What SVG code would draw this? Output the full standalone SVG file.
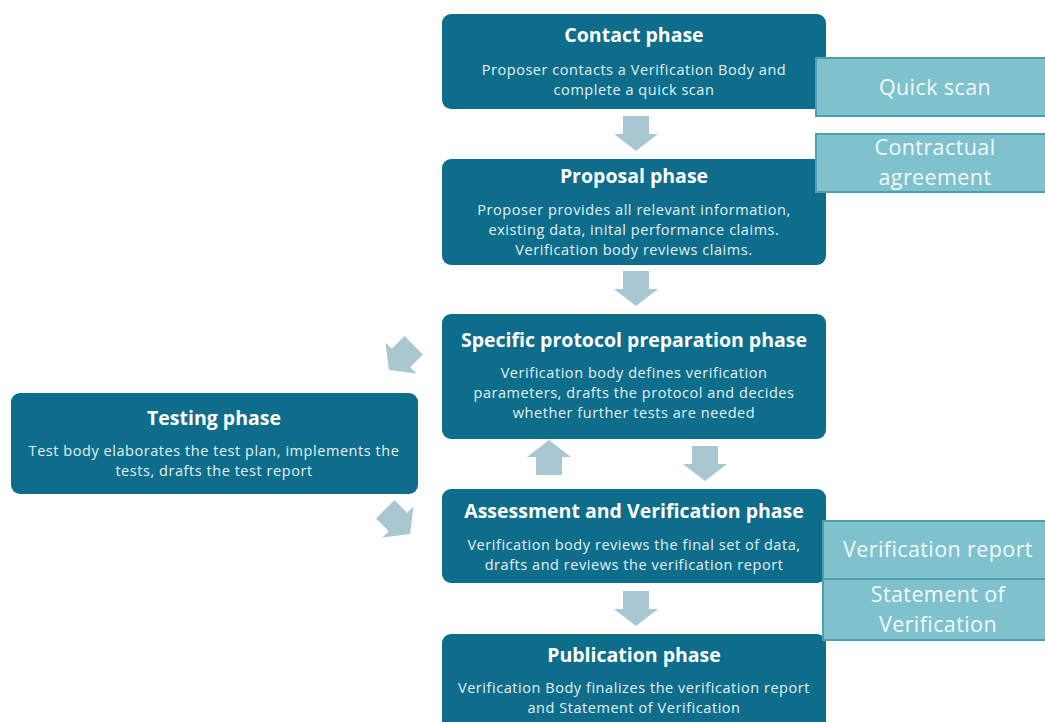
<svg xmlns="http://www.w3.org/2000/svg" width="1045" height="722" viewBox="0 0 1045 722">
<defs>
<style>
.box{fill:#0d6d8b;}
.side{fill:#7fc1cd;stroke:#4a9fb2;stroke-width:2;}
.t{font-family:"Open Sans","Liberation Sans",sans-serif;font-weight:bold;font-size:19.5px;fill:#ffffff;text-anchor:middle;}
.b{font-family:"Open Sans","Liberation Sans",sans-serif;font-size:14.5px;letter-spacing:0.55px;fill:#e3f1f5;text-anchor:middle;}
.s{font-family:"Open Sans","Liberation Sans",sans-serif;font-size:21.5px;letter-spacing:0.4px;fill:#f2fafb;text-anchor:middle;}
.arr{fill:#a9c7d0;}
</style>
<path id="down" d="M-13,-18 H13 V0 H22 L0,17 L-22,0 H-13 Z"/>
</defs>
<rect width="1045" height="722" fill="#ffffff"/>
<g id="connectors" class="arr">
<use href="#down" x="636" y="134"/>
<use href="#down" x="636" y="289"/>
<use href="#down" x="636" y="609"/>
<use href="#down" x="705" y="464"/>
<use href="#down" transform="translate(549,457) rotate(180)"/>
<use href="#down" transform="translate(401,358) rotate(45)"/>
<use href="#down" transform="translate(398,522) rotate(-45)"/>
</g>
<g id="contact">
<rect class="box" x="442" y="14" width="384" height="95" rx="9"/>
<text class="t" x="634" y="42">Contact phase</text>
<text class="b" x="634" y="75">Proposer contacts a Verification Body and</text>
<text class="b" x="634" y="95">complete a quick scan</text>
</g>
<g id="proposal">
<rect class="box" x="442" y="159" width="384" height="106" rx="9"/>
<text class="t" x="634" y="183">Proposal phase</text>
<text class="b" x="634" y="215">Proposer provides all relevant information,</text>
<text class="b" x="634" y="235">existing data, inital performance claims.</text>
<text class="b" x="634" y="255">Verification body reviews claims.</text>
</g>
<g id="protocol">
<rect class="box" x="442" y="314" width="384" height="125" rx="9"/>
<text class="t" x="634" y="347">Specific protocol preparation phase</text>
<text class="b" x="634" y="378">Verification body defines verification</text>
<text class="b" x="634" y="398">parameters, drafts the protocol and decides</text>
<text class="b" x="634" y="418">whether further tests are needed</text>
</g>
<g id="testing">
<rect class="box" x="11" y="393" width="407" height="101" rx="9"/>
<text class="t" x="214" y="425">Testing phase</text>
<text class="b" x="214" y="456">Test body elaborates the test plan, implements the</text>
<text class="b" x="214" y="476">tests, drafts the test report</text>
</g>
<g id="assessment">
<rect class="box" x="442" y="489" width="384" height="94" rx="9"/>
<text class="t" x="634" y="518">Assessment and Verification phase</text>
<text class="b" x="634" y="550">Verification body reviews the final set of data,</text>
<text class="b" x="634" y="570">drafts and reviews the verification report</text>
</g>
<g id="publication">
<rect class="box" x="442" y="634" width="384" height="100" rx="9"/>
<text class="t" x="634" y="662">Publication phase</text>
<text class="b" x="634" y="693">Verification Body finalizes the verification report</text>
<text class="b" x="634" y="713">and Statement of Verification</text>
</g>
<g id="quickscan">
<rect class="side" x="816" y="58" width="235" height="58"/>
<text class="s" x="935" y="95">Quick scan</text>
</g>
<g id="contractual">
<rect class="side" x="816" y="134" width="235" height="58"/>
<text class="s" x="935" y="155">Contractual</text>
<text class="s" x="935" y="185">agreement</text>
</g>
<g id="verificationreport">
<rect class="side" x="823" y="521" width="228" height="58"/>
<text class="s" x="938" y="557">Verification report</text>
</g>
<g id="statement">
<rect class="side" x="823" y="579" width="228" height="61"/>
<text class="s" x="938" y="602">Statement of</text>
<text class="s" x="938" y="632">Verification</text>
</g>
</svg>
